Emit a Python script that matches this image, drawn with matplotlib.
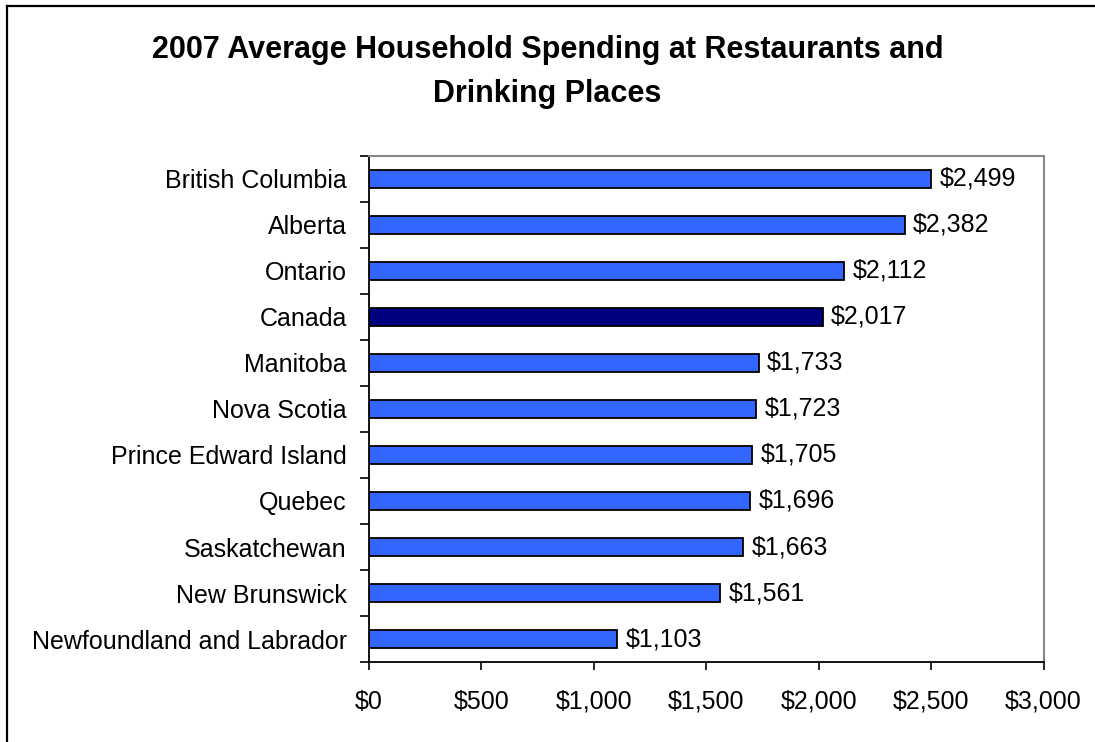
import matplotlib
matplotlib.use("Agg")
import matplotlib.pyplot as plt
from matplotlib.ticker import FixedLocator, NullFormatter, FuncFormatter
from matplotlib.lines import Line2D

plt.rcParams["font.family"] = ["Liberation Sans", "DejaVu Sans"]

# data, top to bottom as shown
provinces = ["British Columbia", "Alberta", "Ontario", "Canada", "Manitoba",
             "Nova Scotia", "Prince Edward Island", "Quebec", "Saskatchewan",
             "New Brunswick", "Newfoundland and Labrador"]
spending = [2499, 2382, 2112, 2017, 1733, 1723, 1705, 1696, 1663, 1561, 1103]
highlight = "Canada"

x_ticks = [0, 500, 1000, 1500, 2000, 2500, 3000]

fs = 18

fig = plt.figure(figsize=(10.95, 7.42), dpi=100)
ax = fig.add_axes([0.337, 0.1078, 0.616, 0.682])

n = len(provinces)
ypos = list(range(n))[::-1]
colors = ["#000080" if p == highlight else "#3366FF" for p in provinces]
ax.barh(ypos, spending, height=0.4, color=colors, edgecolor="black", linewidth=1.3)

for y, v in zip(ypos, spending):
    ax.text(v + 38, y, f"${v:,}", va="center", ha="left", fontsize=fs)

ax.set_xlim(0, 3000)
ax.set_ylim(-0.5, n - 0.5)
ax.set_xticks(x_ticks)
ax.xaxis.set_major_formatter(FuncFormatter(lambda v, p: f"${int(v):,}"))
ax.tick_params(axis="x", labelsize=fs, length=6, width=1.2, direction="out", pad=14)

ax.set_yticks(ypos)
ax.set_yticklabels(provinces, fontsize=fs)
ax.tick_params(axis="y", which="major", length=0, pad=16)
ax.yaxis.set_minor_locator(FixedLocator([i - 0.5 for i in range(n + 1)]))
ax.yaxis.set_minor_formatter(NullFormatter())
ax.tick_params(axis="y", which="minor", length=6.5, width=1.2, direction="out")

for side in ["top", "right"]:
    ax.spines[side].set_color("#888888")
    ax.spines[side].set_linewidth(1.5)
for side in ["left", "bottom"]:
    ax.spines[side].set_color("black")
    ax.spines[side].set_linewidth(1.3)

fig.text(0.5, 0.903, "2007 Average Household Spending at Restaurants and\nDrinking Places",
         ha="center", va="center", fontsize=22, fontweight="bold", linespacing=1.6)

# chart-area border (only left and top edges fall inside the picture)
fig.lines.append(Line2D([7 / 1095, 7 / 1095], [0, 1 - 6 / 742], transform=fig.transFigure,
                        color="black", linewidth=1.6))
fig.lines.append(Line2D([7 / 1095, 1], [1 - 6 / 742, 1 - 6 / 742], transform=fig.transFigure,
                        color="black", linewidth=1.6))

fig.savefig("out.png", dpi=100)
